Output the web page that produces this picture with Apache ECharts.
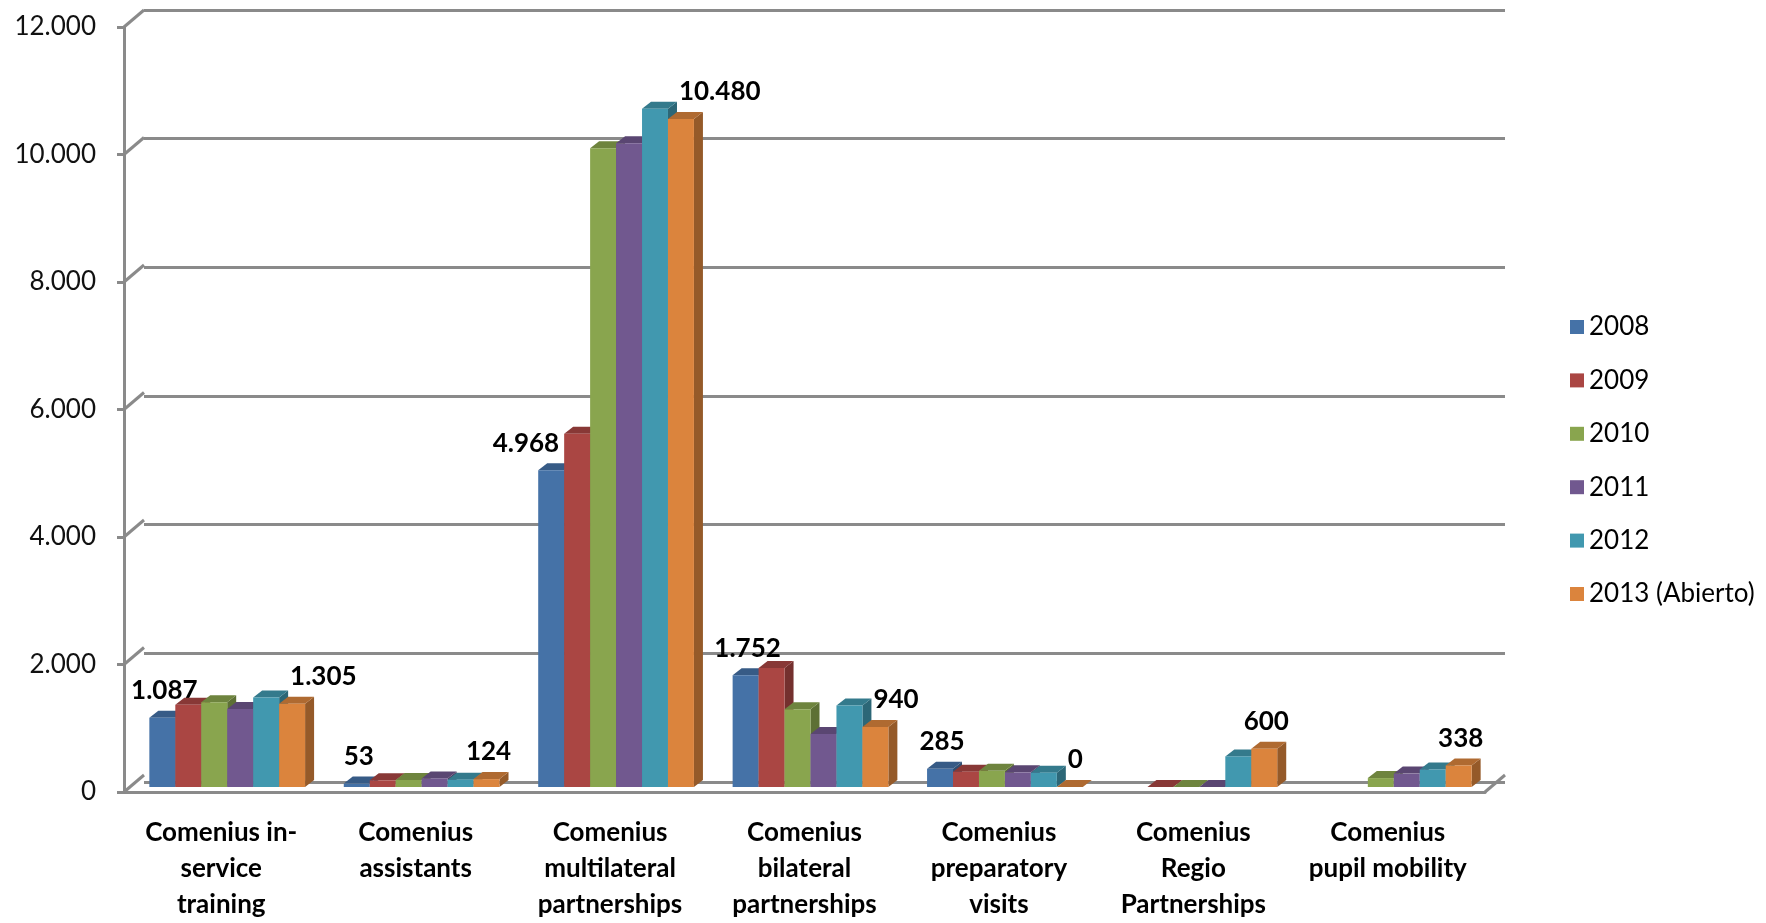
<!DOCTYPE html>
<html><head><meta charset="utf-8">
<script src="https://cdn.jsdelivr.net/npm/echarts@6/dist/echarts.min.js"></script>
<style>html,body{margin:0;padding:0;background:#fff}#c{width:1766px;height:923px}</style>
</head><body><div id="c"></div>
<script>
// ---- data ----
const categories = [
  'Comenius in-\nservice\ntraining',
  'Comenius\nassistants',
  'Comenius\nmultilateral\npartnerships',
  'Comenius\nbilateral\npartnerships',
  'Comenius\npreparatory\nvisits',
  'Comenius\nRegio\nPartnerships',
  'Comenius\npupil mobility'
];
const years = ['2008', '2009', '2010', '2011', '2012', '2013 (Abierto)'];
const v2008 = [1087, 53, 4968, 1752, 285, null, null];
const v2009 = [1290, 105, 5540, 1865, 240, 0, null];
const v2010 = [1330, 110, 10020, 1220, 255, 0, 140];
const v2011 = [1225, 135, 10100, 830, 230, 0, 210];
const v2012 = [1405, 115, 10640, 1280, 225, 480, 275];
const v2013 = [1305, 124, 10480, 940, 0, 600, 338];
const yTicks = [0, 2000, 4000, 6000, 8000, 10000, 12000];

// ---- style ----
const allValues = [v2008, v2009, v2010, v2011, v2012, v2013];
const COLORS = ['#4572A7', '#AA4643', '#89A54E', '#71588F', '#4198AF', '#DB843D'];
const GRID_COLOR = '#8a8a8a';
const FONT = 'Lato, "Open Sans", sans-serif';
const WX = 20, WY = -17;   // wall depth
const DX = 9, DY = -7;     // bar depth
const SX = 6, SY = -5;     // bar offset on floor

function fmt(v) {
  return String(Math.round(v)).replace(/\B(?=(\d{3})+(?!\d))/g, '.');
}
function shade(hex, k) {
  const n = parseInt(hex.slice(1), 16);
  const r = Math.round(((n >> 16) & 255) * k), g = Math.round(((n >> 8) & 255) * k), b = Math.round((n & 255) * k);
  return 'rgb(' + r + ',' + g + ',' + b + ')';
}

function makeRender(si) {
  return function (params, api) {
    const ci = api.value(0), v = api.value(1);
    const base = api.coord([ci, 0]);
    const top = api.coord([ci, v]);
    const catW = api.size([1, 0])[0];
    const bw = catW * 0.1335;
    const x0 = base[0] - 3 * bw + si * bw + SX;
    const x1 = x0 + bw;
    const yb = base[1] + SY, yt = top[1] + SY;
    const c = COLORS[si];
    const children = [
      { type: 'polygon', shape: { points: [[x1, yb], [x1 + DX, yb + DY], [x1 + DX, yt + DY], [x1, yt]] },
        style: { fill: shade(c, 0.68) } },
      { type: 'polygon', shape: { points: [[x0, yt], [x0 + DX, yt + DY], [x1 + DX, yt + DY], [x1, yt]] },
        style: { fill: shade(c, 0.8) } },
      { type: 'rect', shape: { x: x0, y: yt, width: bw, height: Math.max(0, yb - yt) },
        style: { fill: c } }
    ];
    if (si === 0 || si === 5) {
      const cx = (x0 + x1) / 2;
      const ly = yt - 27;
      let align = 'center', lx = cx + 2;
      if (si === 0) {
        const nb = allValues[1][ci];
        if (nb != null && api.coord([ci, nb])[1] + SY < ly) { align = 'right'; lx = cx + 8; }
      } else {
        const nb = allValues[4][ci];
        if (nb != null && nb > v) { align = 'left'; lx = cx - 2; }
      }
      children.push({
        type: 'text', x: lx, y: ly,
        style: { text: fmt(v), fill: '#000', font: 'bold 26px ' + FONT, textAlign: align, textVerticalAlign: 'middle' }
      });
    }
    return { type: 'group', children: children };
  };
}

function wallRender(params, api) {
  const cs = params.coordSys;
  const y = api.coord([0, api.value(1)])[1];
  const ls = { stroke: GRID_COLOR, lineWidth: 3, fill: null };
  const ch = [{ type: 'line', shape: { x1: cs.x, y1: y, x2: cs.x + WX, y2: y + WY }, style: ls }];
  if (api.value(1) === 0) {
    ch.push({ type: 'line', shape: { x1: cs.x + cs.width, y1: y, x2: cs.x + cs.width + WX, y2: y + WY }, style: ls });
  }
  return { type: 'group', children: ch };
}

const series = [{
  type: 'custom', name: 'wall', xAxisIndex: 0, yAxisIndex: 0, silent: true, z: 1,
  renderItem: wallRender, data: yTicks.map(t => [0, t]), legendHoverLink: false
}];
allValues.forEach((vals, si) => {
  const data = [];
  vals.forEach((v, i) => { if (v != null) data.push([i, v]); });
  series.push({
    type: 'custom', name: years[si], xAxisIndex: 0, yAxisIndex: 0, z: 3,
    itemStyle: { color: COLORS[si] },
    renderItem: makeRender(si), data: data
  });
});

const GL = 124, GR = 281, GT = 27, GB = 124;
const axisLineStyle = { color: GRID_COLOR, width: 3 };
const chart = echarts.init(document.getElementById('c'));
chart.setOption({
  animation: false,
  backgroundColor: '#fff',
  legend: {
    data: years, orient: 'vertical', left: 1565, top: 307,
    itemWidth: 14, itemHeight: 14, itemGap: 23.4, icon: 'rect',
    textStyle: { fontFamily: FONT, fontSize: 26, color: '#000', lineHeight: 30 }
  },
  grid: [
    { left: GL, right: GR, top: GT, bottom: GB },
    { left: GL + WX, right: GR - WX, top: GT + WY, bottom: GB - WY }
  ],
  xAxis: [
    { type: 'category', gridIndex: 0, data: categories,
      axisLine: { lineStyle: axisLineStyle },
      axisTick: { length: 12, lineStyle: axisLineStyle },
      axisLabel: { interval: 0, margin: 23, fontFamily: FONT, fontSize: 26, fontWeight: 'bold', color: '#000', lineHeight: 36, verticalAlign: 'top' },
      splitLine: { show: false } },
    { type: 'category', gridIndex: 1, data: categories,
      axisLine: { show: false }, axisTick: { show: false }, axisLabel: { show: false }, splitLine: { show: false } }
  ],
  yAxis: [
    { type: 'value', gridIndex: 0, min: 0, max: 12000, interval: 2000,
      axisLine: { show: true, lineStyle: axisLineStyle },
      axisTick: { show: true, length: 7, lineStyle: axisLineStyle },
      axisLabel: { margin: 28, fontFamily: FONT, fontSize: 26, color: '#111', formatter: fmt },
      splitLine: { show: false } },
    { type: 'value', gridIndex: 1, min: 0, max: 12000, interval: 2000,
      axisLine: { show: false }, axisTick: { show: false }, axisLabel: { show: false },
      splitLine: { show: true, lineStyle: { color: GRID_COLOR, width: 3 } } }
  ],
  series: series
});
</script>
</body></html>
